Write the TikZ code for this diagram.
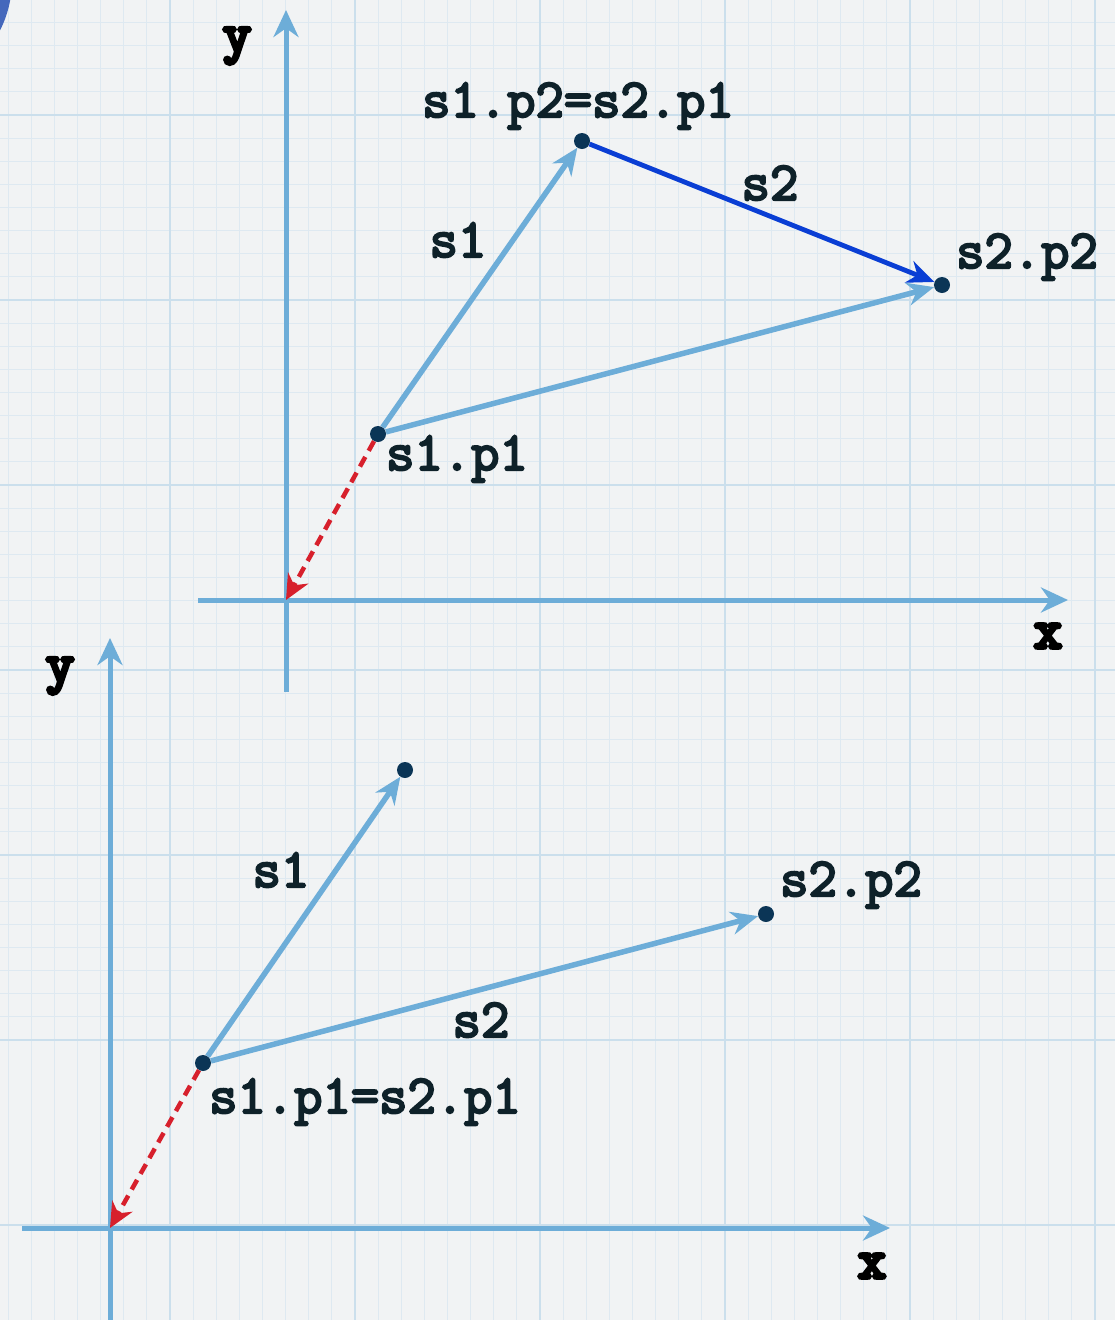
\documentclass[tikz,border=0pt]{standalone}
\usepackage{fontspec}
\newfontfamily\codefont{Latin Modern Mono}[FakeBold=4]
\newfontfamily\axisfont{Latin Modern Mono}[FakeBold=7]
\usetikzlibrary{arrows.meta}
\definecolor{PaperGrey}{HTML}{F1F3F4}
\definecolor{GridMinor}{HTML}{DEE9F1}
\definecolor{GridMajor}{HTML}{CBDFEC}
\definecolor{VecLight}{HTML}{6DADD8}
\definecolor{VecDark}{HTML}{0A3ED4}
\definecolor{VecRed}{HTML}{D7202C}
\definecolor{DotNavy}{HTML}{0B3556}
\definecolor{InkDark}{HTML}{0E2129}
\definecolor{CornerBlue}{HTML}{4468BC}

\begin{document}
\begin{tikzpicture}[x=1pt, y=-1pt,
every node/.style={font=\codefont\fontsize{55}{60}\selectfont, text=InkDark, inner sep=0pt},
axislabel/.style={font=\axisfont\fontsize{55}{60}\selectfont, text=black},
axis/.style={-{Stealth[length=27pt,width=25pt]}, line width=5pt, color=VecLight},
vec/.style={-{Stealth[length=27pt,width=23pt]}, line width=5.5pt, color=VecLight},
vecdark/.style={vec, color=VecDark, line width=4.8pt},
moveback/.style={-{Stealth[length=25pt,width=23pt]}, line width=4.5pt, color=VecRed, dash pattern=on 11pt off 7pt},
dot/.style={circle, fill=DotNavy, minimum size=16pt, inner sep=0pt},
minorgrid/.style={line width=1pt, color=GridMinor},
majorgrid/.style={line width=1.6pt, color=GridMajor}
]
\useasboundingbox (0,0) rectangle (1115,1320);
\begin{scope}
\clip (0,0) rectangle (1115,1320);
% graph paper
\fill[PaperGrey] (0,0) rectangle (1115,1320);
\foreach \i in {-8,...,40} {
  \draw[minorgrid] ({170+23.125*\i},0) -- ({170+23.125*\i},1320);
  \draw[minorgrid] (0,{115+23.125*\i}) -- (1115,{115+23.125*\i});
}
\foreach \i in {-1,...,6} {
  \draw[majorgrid] ({170+185*\i},0) -- ({170+185*\i},1320);
  \draw[majorgrid] (0,{115+185*\i}) -- (1115,{115+185*\i});
}
\fill[CornerBlue] (-100,-20) circle (112);
\end{scope}

% top: s1 then s2
\coordinate (oa) at (286,600);
\coordinate (ya0) at (286,692);
\coordinate (ya1) at (286,10);
\coordinate (xa0) at (198,600);
\coordinate (xa1) at (1068,600);
\draw[axis] (ya0) -- (ya1);
\draw[axis] (xa0) -- (xa1);
\node[axislabel] (ylabA) at (237,46) {y};
\node[axislabel] (xlabA) at (1048,636) {x};

\node[dot] (pA) at (378,434) {};
\node[dot] (qA) at (582,141) {};
\node[dot] (rA) at (942,285) {};
\draw[moveback] (pA) -- (oa);
\draw[vec] (pA) -- (qA);
\draw[vec] (pA) -- (rA);
\draw[vecdark] (qA) -- (rA);
\node (qAlab) at (578,106) {s1.p2=s2.p1};
\node (s2Alab) at (770,183) {s2};
\node (s1Alab) at (458,240) {s1};
\node (rAlab) at (1027,257) {s2.p2};
\node (pAlab) at (457,459) {s1.p1};

% bottom: shared start point
\coordinate (ob) at (110,1228);
\coordinate (yb0) at (110,1330);
\coordinate (yb1) at (110,638);
\coordinate (xb0) at (22,1228);
\coordinate (xb1) at (890,1228);
\draw[axis] (yb0) -- (yb1);
\draw[axis] (xb0) -- (xb1);
\node[axislabel] (ylabB) at (60,676) {y};
\node[axislabel] (xlabB) at (872,1266) {x};

\node[dot] (pB) at (203,1063) {};
\node[dot] (qB) at (405,770) {};
\node[dot] (rB) at (766,914) {};
\draw[moveback] (pB) -- (ob);
\draw[vec] (pB) -- (qB);
\draw[vec] (pB) -- (rB);
\node (s1Blab) at (281,870) {s1};
\node (s2Blab) at (481,1020) {s2};
\node (rBlab) at (851,885) {s2.p2};
\node (pBlab) at (365,1102) {s1.p1=s2.p1};
\end{tikzpicture}
\end{document}
